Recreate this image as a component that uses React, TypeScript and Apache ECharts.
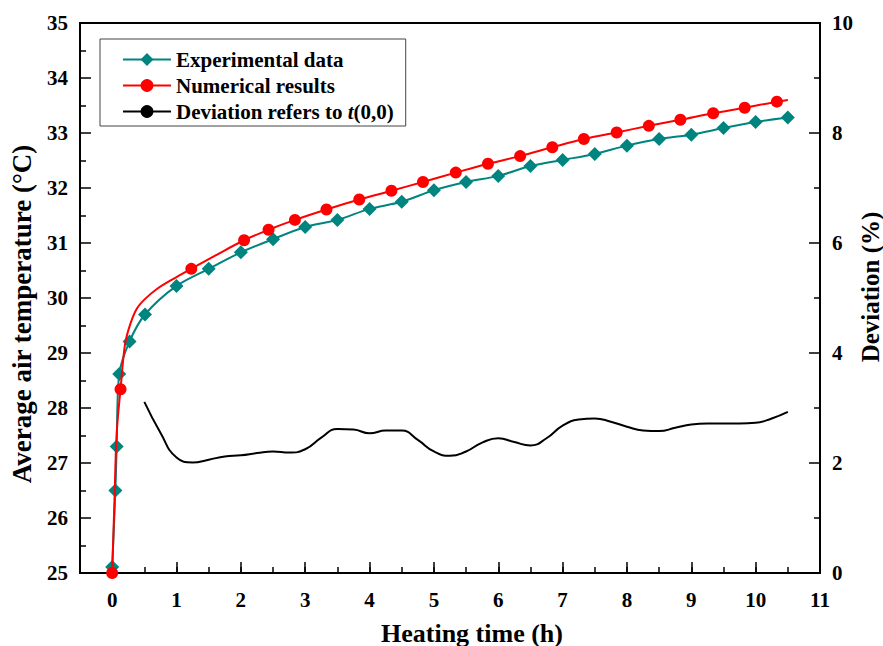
import React, { useEffect, useRef } from "react";
import * as echarts from "echarts";

const expTime = [0, 0.05, 0.07, 0.11, 0.27, 0.51, 1.0, 1.5, 2.0, 2.5, 3.0, 3.5, 4.0, 4.5, 5.0, 5.5, 6.0, 6.5, 7.0, 7.5, 8.0, 8.5, 9.0, 9.5, 10.0, 10.5];
const expTemp = [25.11, 26.5, 27.3, 28.62, 29.21, 29.7, 30.22, 30.53, 30.83, 31.07, 31.29, 31.42, 31.62, 31.75, 31.96, 32.11, 32.22, 32.4, 32.51, 32.62, 32.77, 32.89, 32.97, 33.09, 33.2, 33.28];

const numTime = [0, 0.036, 0.07, 0.13, 0.2, 0.28, 0.38, 0.5, 0.69, 1.0, 1.23, 1.6, 2.05, 2.43, 2.84, 3.33, 3.84, 4.34, 4.83, 5.34, 5.84, 6.34, 6.84, 7.33, 7.84, 8.34, 8.83, 9.34, 9.83, 10.33, 10.5];
const numTemp = [25.0, 26.33, 27.54, 28.34, 29.16, 29.52, 29.8, 29.97, 30.16, 30.38, 30.53, 30.77, 31.05, 31.24, 31.42, 31.61, 31.79, 31.95, 32.11, 32.28, 32.44, 32.58, 32.74, 32.89, 33.01, 33.13, 33.24, 33.36, 33.46, 33.57, 33.6];
const numMarked = [1, 0, 0, 1, 0, 0, 0, 0, 0, 0, 1, 0, 1, 1, 1, 1, 1, 1, 1, 1, 1, 1, 1, 1, 1, 1, 1, 1, 1, 1, 0];

const devTime = [0.5, 0.75, 1.0, 1.25, 1.5, 1.75, 2.0, 2.25, 2.5, 2.75, 3.0, 3.25, 3.5, 3.75, 4.0, 4.25, 4.5, 4.75, 5.0, 5.25, 5.5, 5.75, 6.0, 6.25, 6.5, 6.75, 7.0, 7.25, 7.5, 7.75, 8.0, 8.25, 8.5, 8.75, 9.0, 9.25, 9.5, 9.75, 10.0, 10.25, 10.5];
const devValue = [3.11, 2.55, 2.1, 2.01, 2.06, 2.12, 2.14, 2.18, 2.21, 2.19, 2.25, 2.46, 2.62, 2.61, 2.54, 2.59, 2.59, 2.42, 2.21, 2.13, 2.21, 2.37, 2.45, 2.38, 2.32, 2.45, 2.68, 2.79, 2.81, 2.75, 2.66, 2.59, 2.58, 2.64, 2.7, 2.72, 2.72, 2.72, 2.73, 2.81, 2.93];

const xMajorTicks = [0, 1, 2, 3, 4, 5, 6, 7, 8, 9, 10, 11];

const SERIES_NAMES = ["Experimental data", "Numerical results", "Deviation refers to t(0,0)"];

const FONT = '"Liberation Serif", "Times New Roman", serif';
const TEAL = "#00847F";
const RED = "#FF0000";

export default function App() {
  const ref = useRef<HTMLDivElement>(null);
  useEffect(() => {
    if (!ref.current) return;
    const chart = echarts.init(ref.current, null, { renderer: "svg" });
    const labelStyle = { color: "#000", fontSize: 21, fontWeight: "bold" as const, fontFamily: FONT };
    const nameStyle = { color: "#000", fontSize: 26, fontWeight: "bold" as const, fontFamily: FONT };
    const option: any = {
      animation: false,
      backgroundColor: "#fff",
      grid: {
        left: 80, right: 63, top: 23, bottom: 73,
        outerBoundsMode: "none",
        containLabel: false,
        show: true, borderColor: "#000", borderWidth: 2, backgroundColor: "transparent",
      },
      legend: {
        data: SERIES_NAMES,
        orient: "vertical",
        left: 100,
        top: 39,
        padding: [10, 12, 4, 22],
        itemGap: 5,
        itemWidth: 48,
        itemHeight: 16,
        borderColor: "#444",
        borderWidth: 1,
        textStyle: {
          color: "#000",
          fontSize: 21,
          fontWeight: "bold",
          fontFamily: FONT,
          rich: {
            n: { fontSize: 21, fontWeight: "bold", fontFamily: FONT, color: "#000" },
            i: { fontSize: 21, fontWeight: "bold", fontStyle: "italic", fontFamily: FONT, color: "#000" },
          },
        },
        formatter: (name: string) =>
          name === SERIES_NAMES[2] ? "{n|Deviation refers to }{i|t}{n|(0,0)}" : name,
      },
      xAxis: [
        {
          type: "value",
          min: -0.5,
          max: 11,
          interval: 0.5,
          name: "Heating time (h)",
          nameLocation: "middle",
          nameGap: 47,
          nameTextStyle: { ...nameStyle, padding: [0, 0, 0, 44] },
          axisLine: { show: true, onZero: false, lineStyle: { color: "#000", width: 2 } },
          axisTick: { show: true, inside: true, length: 6, lineStyle: { color: "#000", width: 1.5 } },
          axisLabel: {
            ...labelStyle,
            margin: 16,
            formatter: (v: number) => (v >= 0 && Math.abs(v - Math.round(v)) < 1e-6 ? String(Math.round(v)) : ""),
          },
          splitLine: { show: false },
        },
        {
          type: "value",
          position: "bottom",
          min: -0.5,
          max: 11,
          interval: 0.5,
          axisLine: { show: false, onZero: false },
          axisTick: { show: true, inside: true, length: 11, customValues: xMajorTicks, lineStyle: { color: "#000", width: 1.5 } },
          axisLabel: { show: false },
          splitLine: { show: false },
        },
      ],
      yAxis: [
        {
          type: "value",
          min: 25,
          max: 35,
          interval: 1,
          name: "Average air temperature (°C)",
          nameLocation: "middle",
          nameGap: 45,
          nameTextStyle: { ...nameStyle, fontSize: 27, padding: [0, 32, 0, 0] },
          axisLine: { show: true, onZero: false, lineStyle: { color: "#000", width: 2 } },
          axisTick: { show: true, inside: true, length: 11, lineStyle: { color: "#000", width: 1.5 } },
          minorTick: { show: true, splitNumber: 2, length: 6, lineStyle: { color: "#000", width: 1.5 } },
          axisLabel: { ...labelStyle, margin: 12 },
          splitLine: { show: false },
        },
        {
          type: "value",
          position: "right",
          min: 0,
          max: 10,
          interval: 2,
          name: "Deviation (%)",
          nameLocation: "middle",
          nameGap: 38,
          nameMoveOverlap: false,
          nameTextStyle: { ...nameStyle, fontSize: 25, padding: [0, 0, 0, 22] },
          axisLine: { show: true, onZero: false, lineStyle: { color: "#000", width: 2 } },
          axisTick: { show: true, inside: true, length: 11, lineStyle: { color: "#000", width: 1.5 } },
          minorTick: { show: true, splitNumber: 2, length: 6, lineStyle: { color: "#000", width: 1.5 } },
          axisLabel: { ...labelStyle, margin: 12 },
          splitLine: { show: false },
        },
      ],
      series: [
        {
          name: SERIES_NAMES[0],
          type: "line",
          xAxisIndex: 0,
          yAxisIndex: 0,
          smooth: 0.3,
          symbol: "diamond",
          symbolSize: 14,
          showAllSymbol: true,
          color: TEAL,
          lineStyle: { color: TEAL, width: 2 },
          itemStyle: { color: TEAL },
          data: expTime.map((t, i) => [t, expTemp[i]]),
          z: 3,
        },
        {
          name: SERIES_NAMES[1],
          type: "line",
          xAxisIndex: 0,
          yAxisIndex: 0,
          smooth: 0.35,
          symbol: "circle",
          symbolSize: 12,
          showAllSymbol: true,
          color: RED,
          lineStyle: { color: RED, width: 2 },
          itemStyle: { color: RED },
          data: numTime.map((t, i) =>
            numMarked[i] ? { value: [t, numTemp[i]] } : { value: [t, numTemp[i]], symbol: "none" }
          ),
          z: 4,
        },
        {
          name: SERIES_NAMES[2],
          type: "line",
          xAxisIndex: 0,
          yAxisIndex: 1,
          smooth: 0.5,
          symbol: "none",
          color: "#000",
          lineStyle: { color: "#000", width: 2 },
          itemStyle: { color: "#000" },
          data: devTime.map((t, i) => [t, devValue[i]]),
          z: 2,
        },
      ],
    };
    chart.setOption(option);
    return () => chart.dispose();
  }, []);
  return (
    <div
      ref={ref}
      style={{ position: "fixed", left: 0, top: 0, width: 883, height: 646, background: "#fff" }}
    />
  );
}
